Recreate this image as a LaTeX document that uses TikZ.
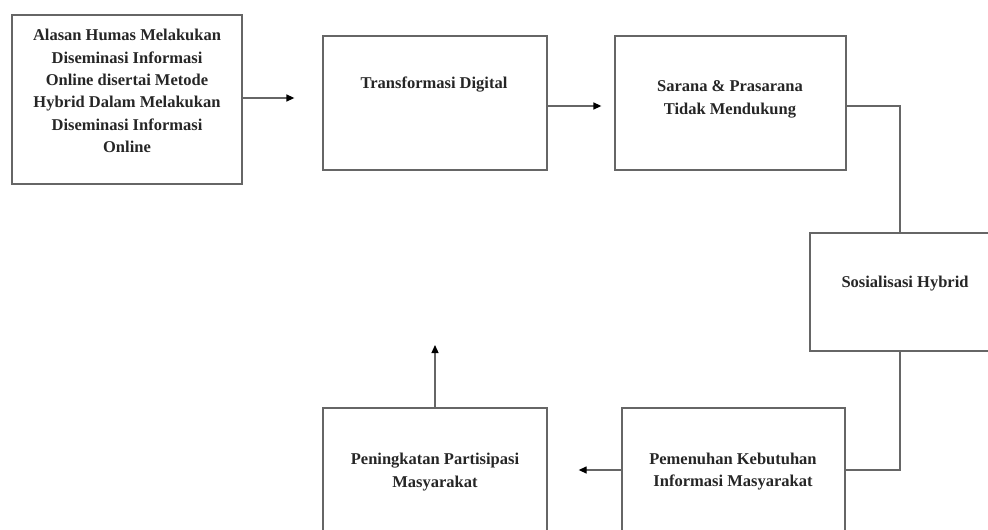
\documentclass[tikz,border=0pt]{standalone}
\usepackage{fontspec}
\setmainfont{Liberation Serif}
\usetikzlibrary{arrows.meta}

\begin{document}
\begin{tikzpicture}[
x=1pt, y=-1pt, % one unit per pixel of the page, y running down
>={Triangle[length=8pt, width=7pt, color=black]},
box/.style={draw=black!60, line width=1.3pt, inner sep=0pt},
txt/.style={font=\fontsize{16.5}{22.4}\selectfont\bfseries, align=center, text=black!85, inner sep=0pt},
link/.style={draw=black!60, line width=1.3pt}
]
\clip (0,0) rectangle (988,530);

% ================= Boxes =================

% Top row
\node[box, minimum width=230pt, minimum height=169pt] (alasan) at (127,99.5) {};
\node[box, minimum width=224pt, minimum height=134pt] (transformasi) at (435,103) {};
\node[box, minimum width=231pt, minimum height=134pt] (sarana) at (730.5,103) {};

% Right side (runs off the page)
\node[box, minimum width=180pt, minimum height=118pt] (sosialisasi) at (900,292) {};

% Bottom row (runs off the page)
\node[box, minimum width=223pt, minimum height=124pt] (pemenuhan) at (733.5,470) {};
\node[box, minimum width=224pt, minimum height=124pt] (peningkatan) at (435,470) {};

% ================= Texts =================
\node[txt] (tAlasan) at (127,91) {Alasan Humas Melakukan\\Diseminasi Informasi\\Online disertai Metode\\Hybrid Dalam Melakukan\\Diseminasi Informasi\\Online};
\node[txt] (tTransformasi) at (434,85) {Transformasi Digital};
\node[txt] (tSarana) at (730,99.5) {Sarana \& Prasarana\\Tidak Mendukung};
\node[txt] (tSosialisasi) at (905,284) {Sosialisasi Hybrid};
\node[txt] (tPemenuhan) at (733,471.5) {Pemenuhan Kebutuhan\\Informasi Masyarakat};
\node[txt] (tPeningkatan) at (435,472) {Peningkatan Partisipasi\\Masyarakat};

% ================= Connectors =================
\coordinate (up) at (435,345);

\draw[link, ->, shorten >=28pt] (alasan.east |- 0,98) -- (transformasi.west |- 0,98);
\draw[link, ->, shorten >=13pt] (transformasi.east |- 0,106) -- (sarana.west |- 0,106);
\draw[link] (sarana.east |- 0,106) -| (sosialisasi.north);
\draw[link] (sosialisasi.south) |- (pemenuhan.east);
\draw[link, ->, shorten >=31pt] (pemenuhan.west) -- (peningkatan.east);
\draw[link, ->] (peningkatan.north) -- (up);

\end{tikzpicture}
\end{document}
